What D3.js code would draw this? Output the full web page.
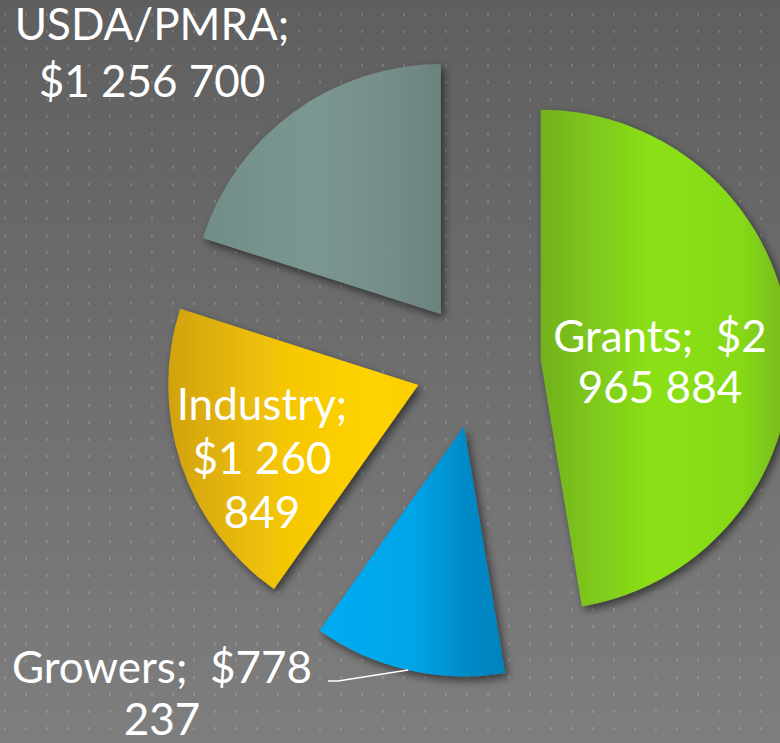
<!DOCTYPE html>
<html>
<head>
<meta charset="utf-8">
<script src="https://cdn.jsdelivr.net/npm/d3@7/dist/d3.min.js"></script>
<style>
  html, body { margin: 0; padding: 0; background: #6a6a6a; }
  svg { display: block; }
  text { font-family: "Lato", "Open Sans", sans-serif; fill: #ffffff; }
</style>
</head>
<body>
<svg id="chart" width="780" height="743"></svg>
<script>
// Funding sources (CAD)
const categories = ["Grants", "Growers", "Industry", "USDA/PMRA"];
const values = [2965884, 778237, 1260849, 1256700];
// Words per label line, e.g. "Grants;  $2" / "965 884"
const labelLineWords = [[2, 2], [2, 1], [1, 2, 1], [1, 3]];

const W = 780, H = 743;
const cx = 478, cy = 365, radius = 250, explode = 63;

const fills = [
  [["0", "#73b11f"], ["0.45", "#8be117"], ["0.8", "#86d918"], ["1", "#76b71e"]],
  [["0", "#00acf2"], ["0.5", "#00a5e8"], ["0.8", "#0089c7"], ["1", "#0083be"]],
  [["0", "#d1a20f"], ["0.45", "#f3c606"], ["0.8", "#ffd300"], ["1", "#fcd000"]],
  [["0", "#718d88"], ["0.45", "#7b9791"], ["0.8", "#758d89"], ["1", "#6b817d"]]
];

const labelPos = [
  { x: 660, y: 352, lh: 51 },
  { x: 162, y: 683, lh: 52 },
  { x: 262, y: 420, lh: 54 },
  { x: 152, y: 40, lh: 57 }
];

const svg = d3.select("#chart");
const defs = svg.append("defs");

// Background: vertical grey wash with a fine dot grid
const bg = defs.append("linearGradient").attr("id", "bg")
  .attr("x1", 0).attr("y1", 0).attr("x2", 0).attr("y2", 1);
bg.append("stop").attr("offset", 0).attr("stop-color", "#5f5f5f");
bg.append("stop").attr("offset", 1).attr("stop-color", "#7e7e7e");

const dots = defs.append("pattern").attr("id", "dots")
  .attr("patternUnits", "userSpaceOnUse")
  .attr("width", 21).attr("height", 17);
dots.append("rect").attr("x", 4).attr("y", 13).attr("width", 2).attr("height", 3)
  .attr("fill", "#ffffff").attr("fill-opacity", 0.14);

const shadow = defs.append("filter").attr("id", "shadow")
  .attr("x", "-20%").attr("y", "-20%").attr("width", "140%").attr("height", "140%");
shadow.append("feDropShadow").attr("dx", 3).attr("dy", 4).attr("stdDeviation", 4)
  .attr("flood-color", "#000").attr("flood-opacity", 0.55);

fills.forEach((stops, i) => {
  const g = defs.append("linearGradient").attr("id", "fill" + i)
    .attr("x1", 0).attr("y1", 0).attr("x2", 1).attr("y2", 0);
  stops.forEach(([o, c]) => g.append("stop").attr("offset", o).attr("stop-color", c));
});

svg.append("rect").attr("width", W).attr("height", H).attr("fill", "url(#bg)");
svg.append("rect").attr("width", W).attr("height", H).attr("fill", "url(#dots)");

const data = categories.map((c, i) => ({ name: c, value: values[i], idx: i }));
const pie = d3.pie().value(d => d.value).sort(null).startAngle(0).endAngle(2 * Math.PI);
const arcs = pie(data);
const arc = d3.arc().innerRadius(0).outerRadius(radius);

function offset(a) {
  const m = (a.startAngle + a.endAngle) / 2;
  return [Math.sin(m) * explode, -Math.cos(m) * explode];
}

const g = svg.append("g").attr("transform", `translate(${cx},${cy})`);
g.selectAll("path.slice").data(arcs).join("path")
  .attr("class", "slice")
  .attr("d", arc)
  .attr("transform", d => `translate(${offset(d)})`)
  .attr("fill", d => `url(#fill${d.data.idx})`)
  .attr("filter", "url(#shadow)");

// Labels
const fmt = v => d3.format(",")(v).replace(/,/g, " ");
function labelLines(d) {
  const words = [d.name + ";", "$" + fmt(d.value).split(" ")[0]]
    .concat(fmt(d.value).split(" ").slice(1));
  const counts = labelLineWords[d.idx];
  const lines = [];
  let k = 0;
  counts.forEach(n => {
    const w = words.slice(k, k + n);
    k += n;
    lines.push(w.map((s, j) => (s.endsWith(";") && j < w.length - 1) ? s + "\u00a0" : s).join(" "));
  });
  return lines;
}

const labels = svg.append("g");
data.forEach(d => {
  const p = labelPos[d.idx];
  const t = labels.append("text")
    .attr("text-anchor", "middle")
    .style("font-size", "44px");
  labelLines(d).forEach((line, j) => {
    t.append("tspan").attr("x", p.x).attr("y", p.y + j * p.lh).text(line);
  });
});

// Leader line for the Growers label to the outer edge of its slice
const grow = arcs[1];
const gm = (grow.startAngle + grow.endAngle) / 2;
const go = offset(grow);
const edge = [cx + go[0] + Math.sin(gm) * radius, cy + go[1] - Math.cos(gm) * radius];
svg.append("path")
  .attr("d", d3.line()([[328, 681], [338, 681], edge]))
  .attr("fill", "none").attr("stroke", "#ffffff").attr("stroke-width", 1.5);
</script>
</body>
</html>
